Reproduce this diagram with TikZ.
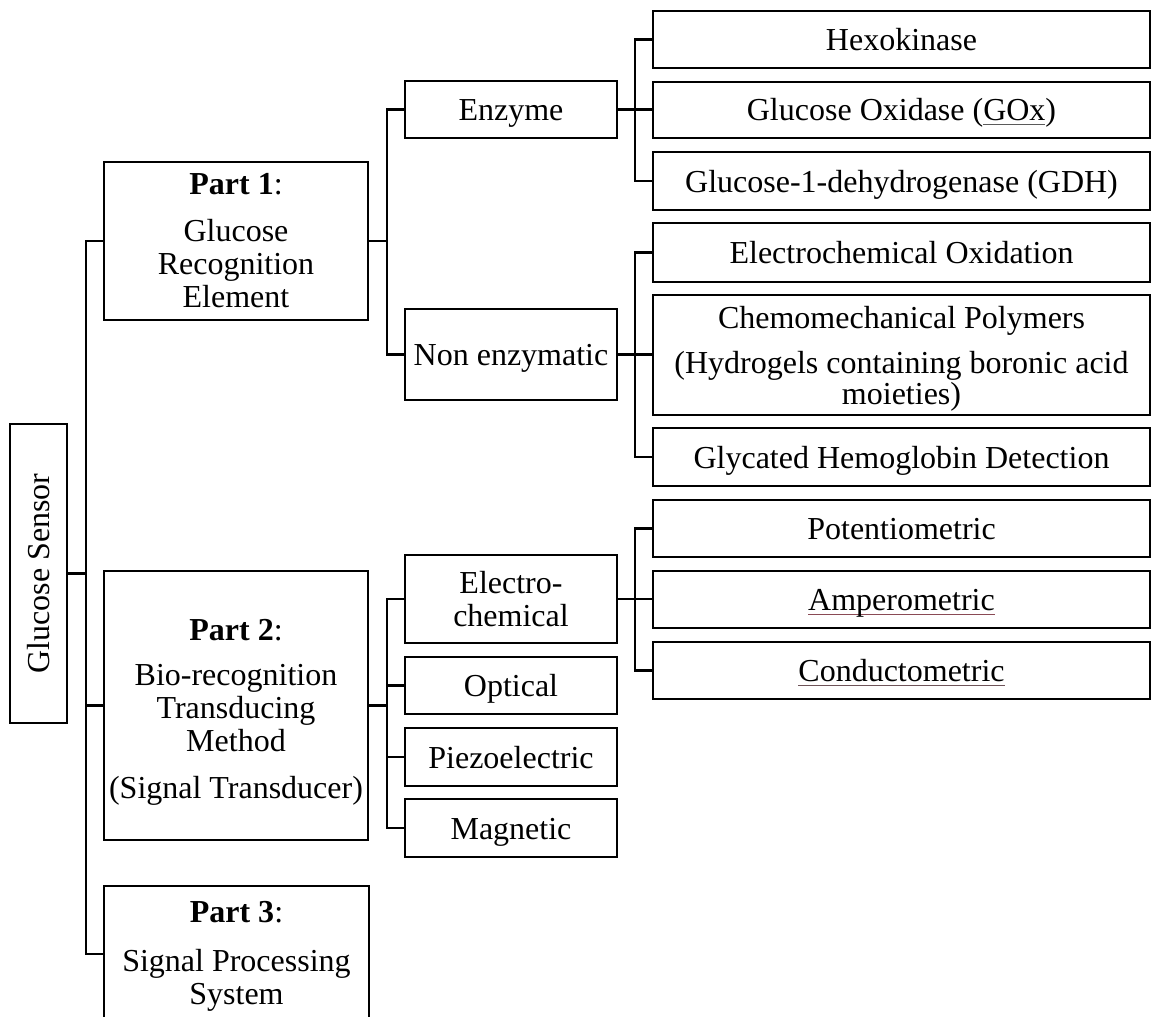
\documentclass[tikz,border=0pt]{standalone}
\usepackage{fontspec}
\setmainfont{Liberation Serif}
\newcommand\fs{\fontsize{16}{16.5}\selectfont}
\newcommand\ulc[2]{\setbox0\hbox{#2}\rlap{\color{#1}\rule[-2.2pt]{\wd0}{0.7pt}}\box0}
\newcommand\topstrut[1]{\rule{0pt}{#1}}
\definecolor{ulgray}{HTML}{5A5A5A}
\definecolor{ulred}{HTML}{8A4A55}
\definecolor{ulmix}{HTML}{6E5358}
\begin{document}
\begin{tikzpicture}[x=0.5pt,y=-0.5pt,
  bx/.style={draw, line width=1.2pt, inner sep=0pt, align=center, font=\fs},
  one/.style={text height=12.5pt, text depth=1.5pt},
  conn/.style={line width=1.2pt}]
\useasboundingbox (0,0) rectangle (1159,1016);
% level 0
\node[bx, minimum width=28.5pt, minimum height=149.5pt] (gs) at (38.5,573.5) {};
\node[rotate=90, font=\fs, text height=12.5pt, text depth=1.5pt] (gst) at (gs.center) {Glucose Sensor};
% level 1
\node[bx, minimum width=132pt, minimum height=79pt] (p1) at (236,241)
  {\textbf{Part 1}:\\[7pt]Glucose\\Recognition\\Element};
\node[bx, minimum width=132pt, minimum height=134.5pt] (p2) at (236,705.5)
  {\topstrut{17pt}\textbf{Part 2}:\\[6pt]Bio-recognition\\Transducing\\Method\\[7pt](Signal Transducer)};
\node[bx, minimum width=132.5pt, minimum height=68pt] (p3) at (236.5,954)
  {\topstrut{13pt}\textbf{Part 3}:\\[8pt]Signal Processing\\System};
% level 2
\node[bx, one, minimum width=106pt, minimum height=28.5pt] (enz) at (511,109.5) {Enzyme};
\node[bx, one, minimum width=106pt, minimum height=45.5pt] (non) at (511,354.5) {Non enzymatic};
\node[bx, minimum width=106pt, minimum height=44pt] (ec) at (511,599) {Electro-\\chemical};
\node[bx, one, minimum width=106pt, minimum height=28.5pt] (opt) at (511,685.5) {Optical};
\node[bx, one, minimum width=106pt, minimum height=29pt] (pie) at (511,757) {Piezoelectric};
\node[bx, one, minimum width=106pt, minimum height=29pt] (mag) at (511,828) {Magnetic};
% level 3
\node[bx, one, minimum width=248.5pt, minimum height=28.5pt] (hex) at (901.5,39.5) {Hexokinase};
\node[bx, one, minimum width=248.5pt, minimum height=28pt] (gox) at (901.5,110) {Glucose Oxidase (\ulc{ulgray}{GOx})};
\node[bx, one, minimum width=248.5pt, minimum height=29pt] (gdh) at (901.5,181) {Glucose-1-dehydrogenase (GDH)};
\node[bx, one, minimum width=248.5pt, minimum height=29.5pt] (eo) at (901.5,252.5) {Electrochemical Oxidation};
\node[bx, minimum width=248.5pt, minimum height=60pt] (chm) at (901.5,355)
  {\topstrut{15pt}Chemomechanical Polymers\\[6pt](Hydrogels containing boronic acid\\[-1pt]moieties)};
\node[bx, one, minimum width=248.5pt, minimum height=29pt] (gly) at (901.5,457) {Glycated Hemoglobin Detection};
\node[bx, one, minimum width=248.5pt, minimum height=28.5pt] (pot) at (901.5,528.5) {Potentiometric};
\node[bx, one, minimum width=248.5pt, minimum height=28.5pt] (amp) at (901.5,599.5) {\ulc{ulred}{Amperometric}};
\node[bx, one, minimum width=248.5pt, minimum height=28.5pt] (cnd) at (901.5,670.5) {\ulc{ulmix}{Conductometric}};
% trunks
\coordinate (T1) at (86,0);
\coordinate (T2) at (387,0);
\coordinate (T3) at (635,0);
% level 0 -> 1
\draw[conn] (p1.west) -- (p1.west -| T1) -- (p3.west -| T1) -- (p3.west);
\draw[conn] (p2.west) -- (p2.west -| T1);
\draw[conn] (gs.east) -- (gs.east -| T1);
% level 1 -> 2
\draw[conn] (enz.west) -- (enz.west -| T2) -- (non.west -| T2) -- (non.west);
\draw[conn] (p1.east) -- (p1.east -| T2);
\draw[conn] (ec.west) -- (ec.west -| T2) -- (mag.west -| T2) -- (mag.west);
\draw[conn] (opt.west) -- (opt.west -| T2);
\draw[conn] (pie.west) -- (pie.west -| T2);
\draw[conn] (p2.east) -- (p2.east -| T2);
% level 2 -> 3
\draw[conn] (hex.west) -- (hex.west -| T3) -- (gdh.west -| T3) -- (gdh.west);
\draw[conn] (enz.east) -- (enz.east -| gox.west);
\draw[conn] (eo.west) -- (eo.west -| T3) -- (gly.west -| T3) -- (gly.west);
\draw[conn] (non.east) -- (non.east -| chm.west);
\draw[conn] (pot.west) -- (pot.west -| T3) -- (cnd.west -| T3) -- (cnd.west);
\draw[conn] (ec.east) -- (ec.east -| amp.west);
\end{tikzpicture}
\end{document}
